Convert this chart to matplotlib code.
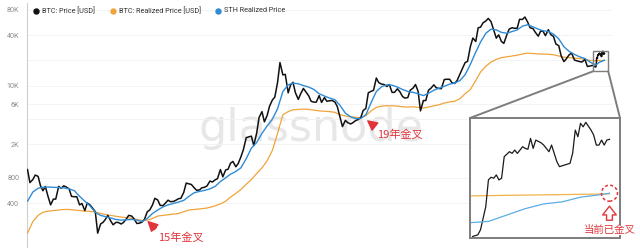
import matplotlib
matplotlib.use('Agg')
import matplotlib.pyplot as plt
import matplotlib.dates as mdates
import numpy as np
import pandas as pd
from matplotlib.patches import Rectangle, Ellipse, ConnectionPatch, FancyArrowPatch
from matplotlib.lines import Line2D

plt.rcParams['font.family'] = ['Roboto', 'Noto Sans CJK SC', 'DejaVu Sans']

# ---------------- data ----------------
# BTC price, semi-monthly (1st and 15th), Dec 2013 .. Dec 2022
price_semi = [
    1000, 700,
    760, 860, 830, 640, 560, 630, 470, 380, 445, 445, 630, 600, 640, 620, 590, 480, 475, 475, 380, 395, 325, 400, 380, 350,
    315, 175, 225, 235, 255, 285, 245, 220, 235, 235, 225, 235, 258, 285, 280, 260, 228, 230, 237, 255, 315, 330, 378, 455,
    434, 375, 372, 400, 432, 415, 417, 430, 450, 455, 536, 690, 676, 665, 607, 567, 572, 607, 616, 640, 730, 711, 753, 780,
    1000, 820, 990, 1010, 1190, 1250, 1080, 1180, 1420, 1720, 2400, 2450, 2500, 1930, 2730, 4180, 4890, 3700, 4400, 5680, 6750, 7300, 10900, 18800,
    13400, 13600, 8200, 10150, 10950, 8250, 6850, 8000, 9250, 8450, 7540, 6500, 6350, 6350, 7600, 6300, 7200, 6500, 6600, 6650, 6380, 5630, 4200, 3250,
    3850, 3620, 3490, 3630, 3820, 3930, 4150, 5040, 5350, 8200, 8550, 8800, 12300, 10850, 10400, 10300, 9750, 10300, 8300, 8300, 9150, 8470, 7420, 7100,
    7200, 8800, 9350, 10300, 8550, 5000, 6640, 6640, 8830, 9300, 10200, 9430, 9230, 9200, 11800, 11900, 11900, 10800, 10600, 11500, 13800, 15950, 18800, 19400,
    29400, 36800, 33500, 48700, 49600, 55700, 58800, 63000, 57800, 46900, 36700, 40200, 33500, 31800, 39900, 47000, 48800, 48100, 48200, 61500, 61300, 65500, 57200, 48900,
    47700, 43100, 38700, 44500, 44400, 39300, 46300, 40500, 38500, 31300, 29800, 22600, 19300, 20800, 23300, 24300, 20100, 19700, 19300, 19100, 20500, 16900, 17100, 17400,
]

# BTC realized price, monthly, Dec 2013 .. Dec 2022
realized_month = [
    175,
    240, 285, 310, 320, 325, 330, 335, 335, 330, 325, 320, 318,
    312, 300, 292, 285, 278, 272, 268, 262, 255, 248, 250, 262,
    280, 285, 290, 295, 300, 315, 330, 335, 340, 345, 355, 370,
    390, 420, 470, 520, 580, 670, 760, 900, 1050, 1270, 1700, 2700,
    4500, 4900, 5150, 5200, 5250, 5200, 5100, 5000, 4950, 4900, 4800, 4500,
    4350, 4250, 4180, 4150, 4400, 5000, 5500, 5700, 5750, 5750, 5700, 5600,
    5550, 5600, 5500, 5400, 5550, 5750, 5900, 6200, 6400, 6500, 7000, 8000,
    9000, 11500, 14500, 17000, 19000, 20500, 21500, 22000, 22500, 23000, 23800, 24300,
    24100, 23800, 23700, 23600, 23300, 22500, 21800, 21500, 21200, 21000, 20500, 19900,
]

# STH realized price, monthly, Dec 2013 .. Dec 2022
sth_month = [
    420,
    540, 600, 615, 620, 615, 610, 605, 590, 560, 480, 420, 370,
    310, 285, 275, 265, 255, 250, 252, 255, 250, 240, 262, 300,
    330, 360, 380, 395, 410, 430, 480, 530, 550, 565, 590, 630,
    720, 800, 880, 950, 1050, 1350, 1800, 2100, 2700, 3300, 4000, 5300,
    8500, 10200, 10700, 10500, 10000, 9600, 9000, 8000, 7500, 7100, 6800, 5800,
    4700, 4250, 4050, 4050, 4500, 6300, 8500, 9700, 10200, 10100, 9600, 9000,
    8500, 8300, 8000, 7600, 8100, 8800, 9300, 9800, 10400, 10700, 11500, 13500,
    18000, 25000, 33000, 42000, 47000, 46000, 43000, 42000, 44000, 46000, 51000, 53000,
    50000, 47000, 45000, 44000, 41000, 36000, 29000, 25500, 23500, 22000, 21000, 19000,
]

# 2023 detail (zoomed inset)
q1_price_dates = ['2023-01-02', '2023-01-04', '2023-01-05', '2023-01-07', '2023-01-08', '2023-01-09',
                  '2023-01-10', '2023-01-11', '2023-01-12', '2023-01-13', '2023-01-14', '2023-01-16',
                  '2023-01-17', '2023-01-18', '2023-01-19', '2023-01-21', '2023-01-22', '2023-01-23',
                  '2023-01-24', '2023-01-25', '2023-01-26', '2023-01-28', '2023-01-29', '2023-01-31',
                  '2023-02-01', '2023-02-03', '2023-02-04', '2023-02-06', '2023-02-08', '2023-02-09',
                  '2023-02-10', '2023-02-11', '2023-02-12', '2023-02-13', '2023-02-14', '2023-02-16',
                  '2023-02-17', '2023-02-18', '2023-02-19', '2023-02-20', '2023-02-21', '2023-02-22',
                  '2023-02-23']
q1_price = [16620, 16750, 17150, 18970, 21050, 21260, 21180, 21440, 21050, 21180, 22870, 23260,
            23130, 23390, 23130, 23650, 23520, 23450, 24300, 23520, 24170, 23960, 23780, 23260,
            23780, 22480, 22090, 22220, 22350, 23130, 24950, 24430, 25480, 25210, 25560, 24950,
            24560, 23780, 23780, 24170, 23780, 24170, 24230]
q1_smooth_dates = ['2023-01-01', '2023-01-08', '2023-01-15', '2023-01-22', '2023-01-29',
                   '2023-02-05', '2023-02-12', '2023-02-19', '2023-02-23']
q1_realized = [19800, 19820, 19840, 19860, 19880, 19900, 19920, 19940, 19960]
q1_sth = [17700, 17800, 18300, 18800, 19170, 19330, 19700, 19880, 20010]

legend_labels = ['BTC: Price [USD]', 'BTC: Realized Price [USD]', 'STH Realized Price']
ytick_vals = [400, 800, 2000, 6000, 10000, 40000, 80000]
ytick_text = ['400', '800', '2K', '6K', '10K', '40K', '80K']

# ---------------- assemble series ----------------
semi_dates = pd.date_range('2013-12-01', '2022-12-15', freq='SMS')
month_dates = pd.date_range('2013-12-01', '2022-12-01', freq='MS')
q1_pd = pd.to_datetime(q1_price_dates)
q1_sd = pd.to_datetime(q1_smooth_dates)

price_dates = semi_dates.append(q1_pd)
price_vals = np.array(price_semi + q1_price, dtype=float)
smooth_dates = month_dates.append(q1_sd)
realized_vals = np.array(realized_month + q1_realized, dtype=float)
sth_vals = np.array(sth_month + q1_sth, dtype=float)

C_PRICE = '#111111'
C_REAL = '#f0a43a'
C_STH = '#2f8bd6'
RED = '#e0353b'
GREY = '#7d7d7d'

# ---------------- figure ----------------
fig = plt.figure(figsize=(6.4, 2.48), dpi=100)
ax = fig.add_axes([27 / 640, 0, 585 / 640, 245 / 248])
ax.set_yscale('log')
ax.set_ylim(116.5, 96200)
ax.set_xlim(pd.Timestamp('2013-11-28'), pd.Timestamp('2023-04-08'))

ax.plot(smooth_dates, realized_vals, color=C_REAL, lw=0.9, zorder=3)
ax.plot(price_dates, price_vals, color=C_PRICE, lw=1.1, zorder=4)
ax.plot(smooth_dates, sth_vals, color=C_STH, lw=1.0, zorder=5)

ax.set_yticks(ytick_vals)
ax.set_yticklabels(ytick_text)
ax.yaxis.set_minor_locator(matplotlib.ticker.FixedLocator([4000, 20000]))
ax.yaxis.set_minor_formatter(matplotlib.ticker.NullFormatter())
ax.tick_params(axis='y', which='both', length=0, pad=5.5, labelsize=5.2, labelcolor='#8c8c8c')
ax.tick_params(axis='x', which='both', length=0, labelbottom=False)
ax.grid(axis='y', which='both', color='#f1f1f1', lw=0.6, zorder=0)
for s in ['top', 'right', 'bottom']:
    ax.spines[s].set_visible(False)
ax.spines['left'].set_color('#cfcfcf')
ax.spines['left'].set_linewidth(0.8)

# watermark
ax.text(311 / 640, 1 - 141 / 248, 'glassnode', transform=fig.transFigure, ha='center',
        va='baseline', fontsize=32, color='#e7e7e7', family='DejaVu Sans', zorder=1)

# legend (manual)
colors = [C_PRICE, C_REAL, C_STH]
dot_x = [36, 113, 218]
for xd, c, lab in zip(dot_x, colors, legend_labels):
    fig.add_artist(Line2D([xd / 640], [1 - 11 / 248], marker='o', ls='', color=c,
                          markersize=3.6, transform=fig.transFigure))
    fig.text((xd + 6) / 640, 1 - 11 / 248, lab, fontsize=5.2, color='#333333', va='center', ha='left')

# annotations
ann_style = dict(arrowstyle='simple,head_length=0.6,head_width=0.6,tail_width=0.22',
                 color=RED, shrinkA=1, shrinkB=0, mutation_scale=11, relpos=(0.05, 0.9))
ax.annotate('15年金叉', xy=(pd.Timestamp('2015-11-06'), 240), xytext=(7, -11.5),
            textcoords='offset points', ha='left', va='center', color=RED, fontsize=8,
            family=['Noto Sans CJK SC', 'DejaVu Sans'], arrowprops=ann_style, zorder=8)
ax.annotate('19年金叉', xy=(pd.Timestamp('2019-05-12'), 3800), xytext=(6.5, -9.5),
            textcoords='offset points', ha='left', va='center', color=RED, fontsize=8,
            family=['Noto Sans CJK SC', 'DejaVu Sans'], arrowprops=ann_style, zorder=8)

# zoom box on main chart
box_x0 = mdates.date2num(pd.Timestamp('2022-12-19'))
box_x1 = mdates.date2num(pd.Timestamp('2023-03-17'))
box_y0, box_y1 = 14800, 25800
ax.add_patch(Rectangle((box_x0, box_y0), box_x1 - box_x0, box_y1 - box_y0, fill=False,
                       ec=GREY, lw=1.0, zorder=6))

# inset
axin = fig.add_axes([470 / 640, 10 / 248, 150 / 640, 120 / 248])
axin.set_zorder(10)
axin.set_facecolor('white')
axin.plot(q1_sd, q1_realized, color='#f2b14a', lw=0.9)
axin.plot(q1_pd, q1_price, color='#1a1a1a', lw=0.9)
axin.plot(q1_sd, q1_sth, color='#5aaee6', lw=0.9)
axin.set_xlim(pd.Timestamp('2023-01-01'), pd.Timestamp('2023-02-27'))
axin.set_ylim(16500, 25900)
axin.set_xticks([])
axin.set_yticks([])
for s in axin.spines.values():
    s.set_color(GREY)
    s.set_linewidth(1.4)

for xa, xb in [(box_x0, 0), (box_x1, 1)]:
    cp = ConnectionPatch(xyA=(xa, box_y0), coordsA=ax.transData, xyB=(xb, 1),
                         coordsB=axin.transAxes, color=GREY, lw=1.4, zorder=7)
    fig.add_artist(cp)

# dashed circle at the latest crossing
fig.canvas.draw()
cx_disp = axin.transData.transform((mdates.date2num(q1_sd[-1]), q1_sth[-1]))
cx, cy = axin.transAxes.inverted().transform(cx_disp)
axin.add_patch(Ellipse((cx, cy), 16 / 150, 16 / 120, transform=axin.transAxes, fill=False,
                       ec=RED, lw=1.1, ls=(0, (2, 1.5)), clip_on=False, zorder=12))
arr = FancyArrowPatch((cx, 0.125), (cx, cy - 0.085), transform=axin.transAxes,
                      arrowstyle='simple,head_length=0.45,head_width=0.7,tail_width=0.3',
                      mutation_scale=14, fc='white', ec=RED, lw=1.0, clip_on=False, zorder=12)
axin.add_patch(arr)
axin.text(cx, 0.067, '当前已金叉', transform=axin.transAxes, ha='center', va='center',
          color=RED, fontsize=7.5, family=['Noto Sans CJK SC', 'DejaVu Sans'],
          bbox=dict(fc='white', ec='none', pad=0.3), clip_on=False, zorder=13)

fig.savefig('out.png', dpi=100)
